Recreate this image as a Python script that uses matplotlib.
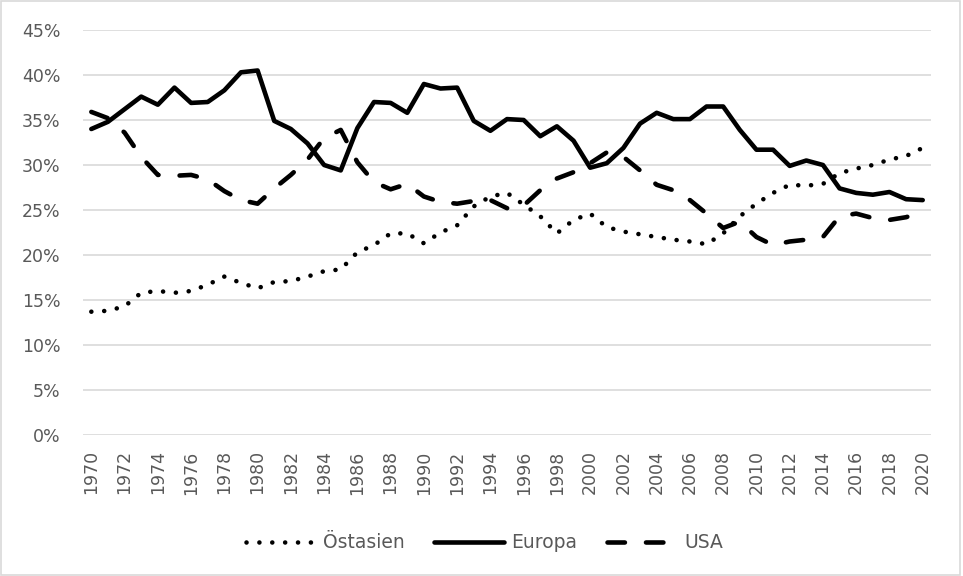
import matplotlib
matplotlib.use('Agg')
import matplotlib.pyplot as plt
import matplotlib.patches as patches
import numpy as np
from matplotlib.ticker import PercentFormatter

plt.rcParams.update({
    'font.family': ['DejaVu Sans'],
    'figure.facecolor': 'white',
    'axes.facecolor': 'white',
})

# Daten (Anteile in %)
years = list(range(1970, 2021))

ostasien = [13.7, 13.8, 14.3, 15.8, 16.0, 15.8, 16.0, 16.7, 17.6, 16.9,
            16.3, 17.0, 17.1, 17.6, 18.2, 18.4, 20.3, 21.1, 22.4, 22.4,
            21.3, 22.5, 23.3, 25.4, 26.5, 26.9, 25.6, 24.3, 22.4, 23.9,
            24.6, 23.1, 22.6, 22.3, 22.0, 21.7, 21.5, 21.2, 22.4, 24.3,
            25.7, 26.9, 27.8, 27.7, 27.9, 29.1, 29.6, 30.0, 30.6, 31.0,
            31.9]

europa = [34.0, 34.8, 36.2, 37.6, 36.7, 38.6, 36.9, 37.0, 38.3, 40.3,
          40.5, 34.9, 34.0, 32.4, 30.0, 29.4, 34.1, 37.0, 36.9, 35.8,
          39.0, 38.5, 38.6, 34.9, 33.8, 35.1, 35.0, 33.2, 34.3, 32.7,
          29.7, 30.2, 31.9, 34.6, 35.8, 35.1, 35.1, 36.5, 36.5, 33.9,
          31.7, 31.7, 29.9, 30.5, 30.0, 27.4, 26.9, 26.7, 27.0, 26.2,
          26.1]

usa = [35.9, 35.2, 33.6, 30.9, 28.9, 28.8, 28.9, 28.4, 27.1, 26.1,
       25.7, 27.4, 28.9, 30.6, 33.0, 33.9, 30.3, 28.1, 27.3, 27.9,
       26.5, 25.9, 25.7, 26.0, 26.1, 25.2, 25.5, 27.2, 28.5, 29.2,
       30.2, 31.4, 30.9, 29.4, 27.8, 27.2, 26.1, 24.6, 23.0, 23.7,
       22.0, 21.1, 21.5, 21.7, 22.0, 24.3, 24.6, 24.1, 23.9, 24.2,
       24.8]

grau = '#595959'
lw = 3.3

fig = plt.figure(figsize=(9.63, 5.76), dpi=100)
ax = fig.add_axes([0.0862, 0.2448, 0.8806, 0.7031])

ax.plot(years, ostasien, color='black', lw=lw, linestyle=(0, (0.01, 2.8)),
        dash_capstyle='round', label='Östasien')
ax.plot(years, europa, color='black', lw=lw, solid_joinstyle='round',
        solid_capstyle='round', label='Europa')
ax.plot(years, usa, color='black', lw=lw, linestyle=(0, (3.8, 4.6)),
        dash_capstyle='round', label='USA')

ax.set_xlim(1969.5, 2020.5)
ax.set_ylim(0, 45)
ax.set_yticks(np.arange(0, 46, 5))
ax.yaxis.set_major_formatter(PercentFormatter(decimals=0))
ax.set_xticks(years[::2])
ax.set_xticklabels([str(y) for y in years[::2]], rotation=90)
ax.tick_params(axis='both', length=0, labelcolor=grau, labelsize=12.5)
ax.tick_params(axis='y', pad=16)
ax.tick_params(axis='x', pad=11)
ax.yaxis.grid(True, color='#d9d9d9', linewidth=1.2)
ax.set_axisbelow(True)
for s in ax.spines.values():
    s.set_visible(False)

leg = fig.legend(loc='center', bbox_to_anchor=(0.503, 0.058), ncol=3,
                 frameon=False, fontsize=13.5, handlelength=3.7,
                 handletextpad=0.4, columnspacing=1.6)
for t in leg.get_texts():
    t.set_color(grau)

# Rahmen um das Diagramm
fig.patches.append(patches.Rectangle((0.0008, 0.001), 0.9966, 0.997,
                                     transform=fig.transFigure, fill=False,
                                     edgecolor='#d9d9d9', linewidth=1.2))

fig.savefig('out.png', dpi=100, facecolor='white')
